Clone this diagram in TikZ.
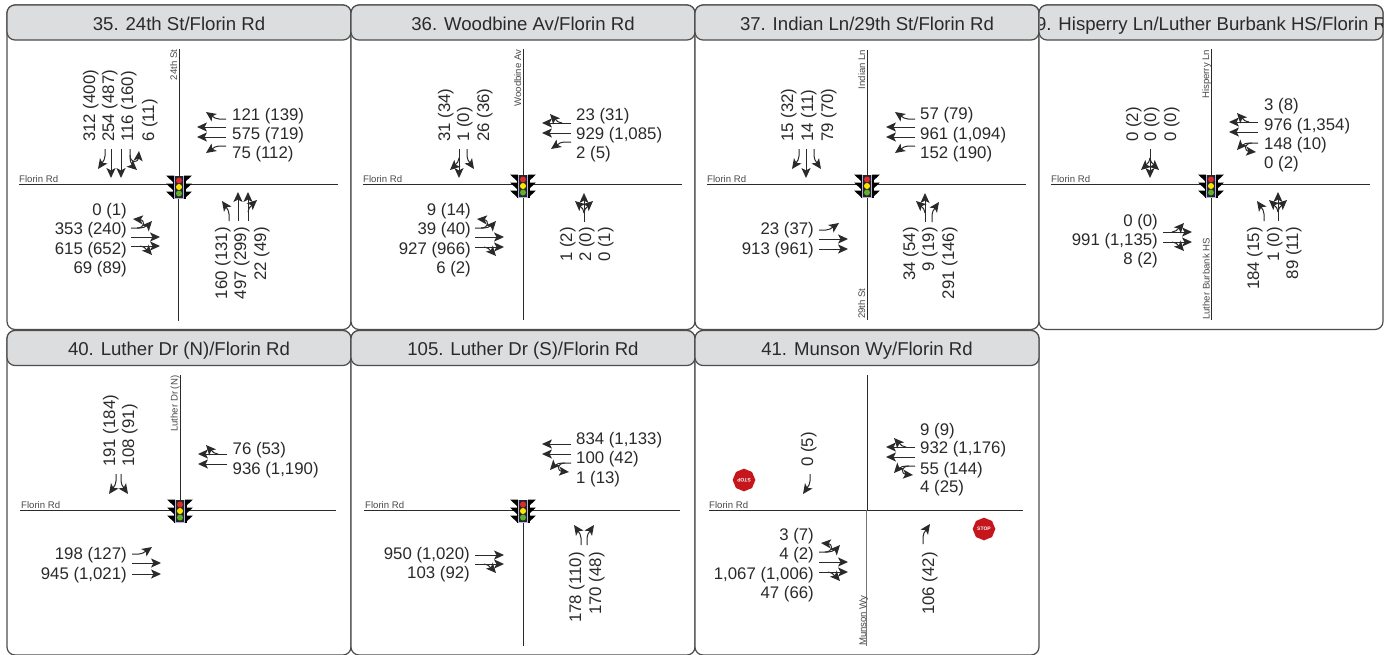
\documentclass[tikz,border=0pt]{standalone}
\usepackage{fontspec}
\setmainfont{Liberation Sans}
\usetikzlibrary{shapes.geometric}
\definecolor{ink}{HTML}{2B2A2B}
\definecolor{frameline}{HTML}{4D4D4D}
\definecolor{headfill}{HTML}{DCDDDE}
\definecolor{stopred}{HTML}{C4161C}
\definecolor{sigred}{HTML}{DE2B2B}
\definecolor{sigyellow}{HTML}{FFE600}
\definecolor{siggreen}{HTML}{5FB030}
\newcounter{nn}
\tikzset{
  x=1pt,y=-1pt,
  road/.style={draw=ink,line width=0.9pt},
  mvline/.style={draw=ink,line width=1pt},
  val/.style={font=\fontsize{16.8}{20}\selectfont,text=ink,inner sep=0pt,text height=12pt,text depth=0pt},
  streetlabel/.style={font=\fontsize{9.6}{11}\selectfont,text=ink!85,inner sep=0pt},
  titletext/.style={font=\fontsize{18.6}{22}\selectfont,text=ink,inner sep=0pt,text height=13.4pt,text depth=0pt},
  panelbody/.style={draw=frameline,line width=1.2pt,rounded corners=8pt,fill=white},
  panelhead/.style={draw=frameline,line width=1.2pt,rounded corners=8pt,fill=headfill},
  stopsign/.style={regular polygon,regular polygon sides=8,shape border rotate=22.5,minimum size=22.7pt,
     fill=stopred,draw=none,inner sep=0pt,text=white,font=\fontsize{5}{5}\selectfont\bfseries},
}
% arrow head: tip at x,y; angle counter-clockwise from "up"
\newcommand\hd[3]{\fill[ink,shift={(#1,#2)},rotate=#3] (0,0)--(4.6,10)--(0,7.6)--(-4.6,10)--cycle;}
% movement glyphs, heading up, base at origin
\newcommand\gTh{\draw[mvline] (0,0)--(0,-22);\hd{0}{-29}{0}}
\newcommand\gL{\draw[mvline] (0,0)--(0,-7) .. controls (0,-10) and (-1.5,-12) .. (-3,-14);\hd{-7}{-20}{35}}
\newcommand\gR{\draw[mvline] (0,0)--(0,-7) .. controls (0,-10) and (1.5,-12) .. (3,-14);\hd{7}{-20}{-35}}
\newcommand\gBL{\draw[mvline] (0,-9) .. controls (0,-12.5) and (-2,-14) .. (-4,-16);\hd{-9}{-21}{48}}
\newcommand\gBR{\draw[mvline] (0,-9) .. controls (0,-12.5) and (2,-14) .. (4,-16);\hd{9}{-21}{-48}}
\newcommand\gTL{\gTh\gBL}
\newcommand\gTR{\gTh\gBR}
\newcommand\gTLR{\gTh\gBL\gBR}
\newcommand\gLU{\draw[mvline] (0,0)--(0,-9) .. controls (0,-12) and (-1,-14) .. (-2.5,-16);\hd{-7}{-21}{48}
  \draw[mvline] (0,-6) .. controls (0,-14) and (-8,-15) .. (-8.6,-8);\hd{-9}{-2}{175}}
\newcommand\mv[4]{\begin{scope}[shift={(#1,#2)},rotate=#3]\csname g#4\endcsname\end{scope}}
% rotations: north 0, south 180, west 90, east -90
\newcommand\mvN[3]{\mv{#1}{#2}{0}{#3}}
\newcommand\mvS[3]{\mv{#1}{#2}{180}{#3}}
\newcommand\mvW[3]{\mv{#1}{#2}{90}{#3}}
\newcommand\mvE[3]{\mv{#1}{#2}{-90}{#3}}
% values
\newcommand\tN[3]{\stepcounter{nn}\node[val,rotate=90,anchor=east] (v\thenn) at (#1,#2) {#3};}
\newcommand\tS[3]{\stepcounter{nn}\node[val,rotate=90,anchor=west] (v\thenn) at (#1,#2) {#3};}
\newcommand\tW[3]{\stepcounter{nn}\node[val,anchor=east] (v\thenn) at (#1,#2) {#3};}
\newcommand\tE[3]{\stepcounter{nn}\node[val,anchor=west] (v\thenn) at (#1,#2) {#3};}
% street labels
\newcommand\lblH[2]{\stepcounter{nn}\node[streetlabel,anchor=base west] (v\thenn) at (#1,-1.5) {#2};}
\newcommand\lblTop[3]{\stepcounter{nn}\node[streetlabel,rotate=90,anchor=base east] (v\thenn) at (#1,-134.5) {#3};}
\newcommand\lblBot[3]{\stepcounter{nn}\node[streetlabel,rotate=90,anchor=base west] (v\thenn) at (#1,#2) {#3};}
% signal head
\newcommand\signal[1]{\begin{scope}[shift={(0,#1)}]
  \foreach \yy in {-8,0,8}{
    \fill[black] (-5,\yy-3.5)--(-13,\yy-3.5)--(-5,\yy+4)--cycle;
    \fill[black] (5,\yy-3.5)--(13,\yy-3.5)--(5,\yy+4)--cycle;}
  \fill[black] (-6.5,-11.5) rectangle (6.5,11.5);
  \fill[gray!50!blue!40] (-5,-11.5) rectangle (5,11.5);
  \fill[black!85] (-3.8,-11) rectangle (3.8,11);
  \fill[sigred] (0,-6.5) circle (3);
  \fill[sigyellow] (0,0) circle (3);
  \fill[siggreen] (0,6.5) circle (3);
\end{scope}}
\begin{document}
\begin{tikzpicture}
\useasboundingbox (0,0) rectangle (1390,654);
\fill[white] (0,0) rectangle (1390,654);
% frames
\foreach \px/\py/\pyb in {7/5/329.5,351/5/329.5,695/5/329.5,1039/5/329.5,7/330.5/655,351/330.5/655,695/330.5/655}{
  \pgfmathsetmacro\xr{\px+344}
  \pgfmathsetmacro\yh{\py+35}
  \draw[panelbody] (\px,\py) rectangle (\xr,\pyb);
  \draw[panelhead] (\px,\py) rectangle (\xr,\yh);
}
% titles
\node[titletext] (h35) at (179,23.5) {35. 24th St/Florin Rd};
\node[titletext] (h36) at (523,23.5) {36. Woodbine Av/Florin Rd};
\node[titletext] (h37) at (867,23.5) {37. Indian Ln/29th St/Florin Rd};
\begin{scope}
  \clip (1040,6) rectangle (1382,39);
  \node[titletext,anchor=west] (h39) at (1025.5,23.5) {39. Hisperry Ln/Luther Burbank HS/Florin Rd};
\end{scope}
\node[titletext] (h40) at (179,348.5) {40. Luther Dr (N)/Florin Rd};
\node[titletext] (h105) at (523,348.5) {105. Luther Dr (S)/Florin Rd};
\node[titletext] (h41) at (867,348.5) {41. Munson Wy/Florin Rd};

% ---- 35
\begin{scope}[shift={(179,184)}]
  \draw[road] (-160,0)--(159,0); \draw[road] (0.3,-135)--(0.3,0); \draw[road] (-0.7,0)--(-0.7,137);
  \signal{3}
  \lblH{-160}{Florin Rd}
  \lblTop{-2}{-135}{24th St}
  \mvS{-74}{-35}{R} \mvS{-68}{-35}{Th} \mvS{-58}{-35}{Th} \mvS{-49}{-35}{LU}
  \mvW{47}{-65}{R} \mvW{47}{-57}{Th} \mvW{47}{-47}{Th} \mvW{47}{-38}{L}
  \mvE{-48}{44}{LU} \mvE{-48}{53}{Th} \mvE{-48}{62}{TR}
  \mvN{50}{37}{L} \mvN{59}{37}{Th} \mvN{69}{37}{TR}
  \tS{-90}{-42}{312 (400)} \tS{-71}{-42}{254 (487)} \tS{-52}{-42}{116 (160)} \tS{-31}{-42}{6 (11)}
  \tE{53}{-70}{121 (139)} \tE{53}{-51}{575 (719)} \tE{53}{-32}{75 (112)}
  \tW{-52}{25}{0 (1)} \tW{-52}{44}{353 (240)} \tW{-52}{64}{615 (652)} \tW{-52}{83}{69 (89)}
  \tN{42}{43}{160 (131)} \tN{61}{43}{497 (299)} \tN{81}{43}{22 (49)}
\end{scope}
% ---- 36
\begin{scope}[shift={(523,184)}]
  \draw[road] (-160,0)--(159,0); \draw[road] (0,-135)--(0,136);
  \signal{2}
  \lblH{-160}{Florin Rd}
  \lblTop{-2}{-135}{Woodbine Av}
  \mvS{-64}{-35}{TR} \mvS{-56}{-35}{L}
  \mvW{48}{-61}{TR} \mvW{48}{-51}{Th} \mvW{48}{-42}{L}
  \mvE{-48}{44}{LU} \mvE{-48}{53}{Th} \mvE{-48}{63}{TR}
  \mvN{61}{38}{TLR}
  \tS{-79}{-42}{31 (34)} \tS{-60}{-42}{1 (0)} \tS{-40}{-42}{26 (36)}
  \tE{53}{-70}{23 (31)} \tE{53}{-51}{929 (1,085)} \tE{53}{-32}{2 (5)}
  \tW{-52}{25}{9 (14)} \tW{-52}{44}{39 (40)} \tW{-52}{64}{927 (966)} \tW{-52}{83}{6 (2)}
  \tN{43}{43}{1 (2)} \tN{62}{43}{2 (0)} \tN{81}{43}{0 (1)}
\end{scope}
% ---- 37
\begin{scope}[shift={(867,184)}]
  \draw[road] (-160,0)--(159,0); \draw[road] (0,-134)--(0,136);
  \signal{2}
  \lblH{-160}{Florin Rd}
  \lblTop{-2}{-135}{Indian Ln}
  \lblBot{-2}{135}{29th St}
  \mvS{-68}{-35}{R} \mvS{-61}{-35}{Th} \mvS{-53}{-35}{L}
  \mvW{48}{-65}{R} \mvW{48}{-57}{Th} \mvW{48}{-47}{Th} \mvW{48}{-38}{L}
  \mvE{-48}{46}{L} \mvE{-48}{55}{Th} \mvE{-48}{65}{Th}
  \mvN{58}{38}{TL} \mvN{65}{38}{R}
  \tS{-80}{-42}{15 (32)} \tS{-60}{-42}{14 (11)} \tS{-40}{-42}{79 (70)}
  \tE{53}{-71}{57 (79)} \tE{53}{-51}{961 (1,094)} \tE{53}{-32}{152 (190)}
  \tW{-53}{44}{23 (37)} \tW{-53}{64}{913 (961)}
  \tN{42}{43}{34 (54)} \tN{61}{43}{9 (19)} \tN{81}{43}{291 (146)}
\end{scope}
% ---- 39
\begin{scope}[shift={(1211,184)}]
  \draw[road] (-160,0)--(159,0); \draw[road] (0,-135)--(0,136);
  \signal{2}
  \lblH{-160}{Florin Rd}
  \lblTop{-2}{-135}{Hisperry Ln}
  \lblBot{-1.5}{136}{Luther Burbank HS}
  \mvS{-61}{-35}{TLR}
  \mvW{47}{-62}{TR} \mvW{47}{-52}{Th} \mvW{47}{-41}{LU}
  \mvE{-48}{48}{TL} \mvE{-48}{58}{TR}
  \mvN{53}{37}{L} \mvN{67}{37}{TLR}
  \tS{-79}{-42}{0 (2)} \tS{-61}{-42}{0 (0)} \tS{-41}{-42}{0 (0)}
  \tE{53}{-80}{3 (8)} \tE{53}{-60}{976 (1,354)} \tE{53}{-41}{148 (10)} \tE{53}{-22}{0 (2)}
  \tW{-53}{36}{0 (0)} \tW{-53}{55}{991 (1,135)} \tW{-53}{74}{8 (2)}
  \tN{42}{43}{184 (15)} \tN{62}{43}{1 (0)} \tN{81}{43}{89 (11)}
\end{scope}
% ---- 40
\begin{scope}[shift={(180,510)}]
  \draw[road] (-160,0)--(156,0); \draw[road] (0,-135)--(0,0);
  \signal{1}
  \lblH{-159}{Florin Rd}
  \lblTop{-2.5}{-135}{Luther Dr (N)}
  \mvS{-64}{-36}{R} \mvS{-59}{-36}{L}
  \mvW{47}{-56}{TR} \mvW{47}{-46}{Th}
  \mvE{-48}{44}{L} \mvE{-48}{53}{Th} \mvE{-48}{64}{Th}
  \tS{-71}{-43}{191 (184)} \tS{-52}{-43}{108 (91)}
  \tE{52.5}{-62}{76 (53)} \tE{52.5}{-42}{936 (1,190)}
  \tW{-53}{43}{198 (127)} \tW{-53}{63}{945 (1,021)}
\end{scope}
% ---- 105
\begin{scope}[shift={(523,510)}]
  \draw[road] (-159,0)--(157,0); \draw[road] (0,0)--(0,136);
  \signal{1}
  \lblH{-158}{Florin Rd}
  \mvW{48}{-66}{Th} \mvW{48}{-56}{Th} \mvW{48}{-47}{LU}
  \mvE{-48}{45}{Th} \mvE{-48}{54}{TR}
  \mvN{58}{35}{L} \mvN{64}{35}{R}
  \tE{53}{-72}{834 (1,133)} \tE{53}{-53}{100 (42)} \tE{53}{-33}{1 (13)}
  \tW{-53}{43}{950 (1,020)} \tW{-53}{62}{103 (92)}
  \tN{52}{42}{178 (110)} \tN{72}{42}{170 (48)}
\end{scope}
% ---- 41
\begin{scope}[shift={(867,510)}]
  \draw[road] (-158,0)--(156,0); \draw[road] (0,-135)--(0,0); \draw[road,draw=ink!65] (-0.5,0)--(-0.5,136);
  \lblH{-158}{Florin Rd}
  \lblBot{-1}{136}{Munson Wy}
  \mvS{-57}{-36}{R}
  \mvW{48}{-63}{TR} \mvW{48}{-53}{Th} \mvW{48}{-44}{LU}
  \mvE{-48}{42}{LU} \mvE{-48}{52}{Th} \mvE{-48}{62}{TR}
  \mvN{56}{34}{R}
  \tS{-60}{-43}{0 (5)}
  \tE{53}{-81}{9 (9)} \tE{53}{-63}{932 (1,176)} \tE{53}{-42}{55 (144)} \tE{53}{-24}{4 (25)}
  \tW{-53}{24}{3 (7)} \tW{-53}{43}{4 (2)} \tW{-53}{63}{1,067 (1,006)} \tW{-53}{82}{47 (66)}
  \tN{61}{42}{106 (42)}
  \node[stopsign,rotate=180] (stopA) at (-123,-30) {STOP};
  \node[stopsign] (stopB) at (117,19) {STOP};
\end{scope}
\end{tikzpicture}
\end{document}
